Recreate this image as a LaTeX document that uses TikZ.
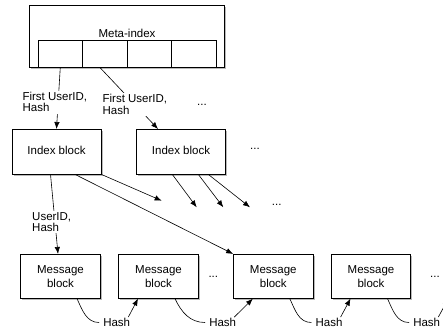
\documentclass[tikz,border=0pt]{standalone}
\usepackage{fontspec}
\setmainfont{Liberation Sans}
\usetikzlibrary{arrows.meta,shadows}

\begin{document}
\begin{tikzpicture}[
  x=10pt, y=10pt,
  >={Latex[length=7pt,width=5.4pt]},
  blk/.style={draw, line width=0.7pt, fill=white, align=center, inner sep=0pt,
    font=\fontsize{11.5}{14.4}\selectfont,
    drop shadow={shadow xshift=1.6pt, shadow yshift=-1.6pt, fill=black!50, opacity=0.55}},
  idxBlock/.style={blk, minimum width=89pt, minimum height=44.7pt, text depth=3pt},
  msgBlock/.style={blk, minimum width=79.5pt, minimum height=44pt},
  cell/.style={draw, line width=0.7pt, fill=white, minimum width=44.5pt, minimum height=26.8pt, inner sep=0pt},
  arr/.style={->, line width=0.6pt},
  lnk/.style={line width=0.6pt},
  elbl/.style={fill=white, align=left, inner sep=1.5pt, font=\fontsize{11.5}{11.5}\selectfont},
  txt/.style={font=\fontsize{11.5}{11.5}\selectfont, inner sep=1pt},
]

\useasboundingbox (0,0) rectangle (44.3,33.3);
\clip (0,0) rectangle (44.3,33.3);

% meta-index with its four entries
\node[blk, minimum width=194.5pt, minimum height=62.5pt] (meta) at (12.675, 29.675) {};
\node[txt] (mt) at (12.7, 29.97) {Meta-index};
\foreach \i in {1,...,4}
  \node[cell] (c\i) at ({6.025+(\i-1)*4.45}, 27.89) {};

% index blocks
\node[idxBlock] (ib1) at (5.65, 18.13) {Index block};
\node[idxBlock] (ib2) at (18.1, 18.13) {Index block};

% message blocks
\node[msgBlock] (mb1) at (6.05, 5.67) {Message\\block};
\node[msgBlock] (mb2) at (15.85, 5.67) {Message\\block};
\node[msgBlock] (mb3) at (27.33, 5.67) {Message\\block};
\node[msgBlock] (mb4) at (37.1, 5.67) {Message\\block};

% hashes under the message blocks
\node[txt] (h1) at (11.67, 1.05) {Hash};
\node[txt] (h2) at (22.27, 1.05) {Hash};
\node[txt] (h3) at (32.9, 1.05) {Hash};
\node[txt] (h4) at (42.67, 1.05) {Hash};

% more of the same
\node[txt] (d1) at (20.2, 22.8) {...};
\node[txt] (d2) at (25.5, 18.4) {...};
\node[txt] (d3) at (27.67, 12.8) {...};
\node[txt] (d4) at (21.33, 5.63) {...};
\node[txt] (d5) at (43.5, 5.63) {...};

% loose arrow ends
\coordinate (e0) at (16.17, 13.23);
\coordinate (e1) at (19.67, 12.57);
\coordinate (e2) at (22.33, 12.57);
\coordinate (e3) at (25.0, 12.57);
\coordinate (nx) at (44.85, 3.47);

\draw[arr] (c1.south) -- node[elbl, pos=0.56, xshift=-3.3pt] {First UserID,\\Hash} (ib1.north);
\draw[arr] ([xshift=-4.5pt]c2.south) -- node[elbl, pos=0.6] {First UserID,\\Hash} ([xshift=-23pt]ib2.north);

\draw[arr] (ib1.south east) -- (e0);
\draw[arr] ([xshift=18.5pt]ib1.south) -- (mb3.north west);
\draw[arr] ([xshift=-6pt]ib1.south) -- node[elbl, pos=0.6, xshift=-3.3pt] {UserID,\\Hash} ([xshift=-2.5pt]mb1.north);

\draw[arr] ([xshift=-8.7pt]ib2.south) -- (e1);
\draw[arr] ([xshift=17.3pt]ib2.south) -- (e2);
\draw[arr] ([xshift=27.3pt]ib2.south) -- (e3);

% hash links between message blocks
\foreach \i in {1,...,4}
  \draw[lnk] ([xshift=16.5pt]mb\i.south) to[out=-65, in=180] ([xshift=-3pt]h\i.west);
\foreach \i/\j in {1/mb2,2/mb3,3/mb4}
  \draw[arr] ([xshift=-3pt]h\i.north east) -- ([xshift=-20.5pt]\j.south);
\draw[arr] ([xshift=-3pt]h4.north east) -- (nx);

\end{tikzpicture}
\end{document}
